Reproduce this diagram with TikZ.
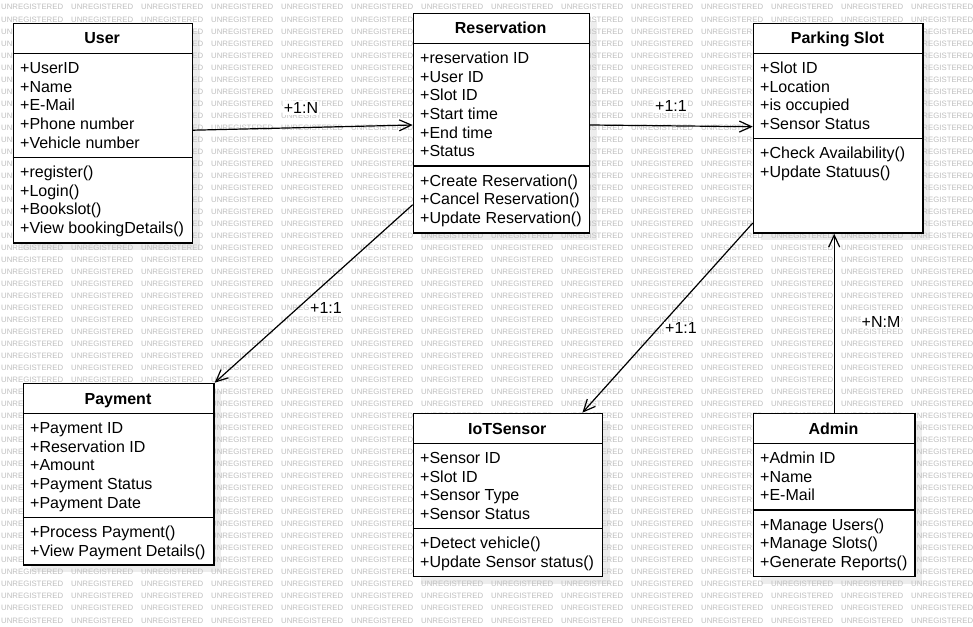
\documentclass[tikz,border=0pt]{standalone}
\usepackage{fontspec}
\setmainfont{Liberation Sans}
\usetikzlibrary{arrows.meta,calc}

\pgfdeclarelayer{paper}
\pgfdeclarelayer{shadow}
\pgfdeclarelayer{watermark}
\pgfsetlayers{paper,shadow,watermark,main}

\tikzset{
  classbox/.style={draw=black, line width=1.4pt, fill=white, inner sep=0pt, rectangle},
  classline/.style={draw=black, line width=1.4pt},
  boxshadow/.style={fill=black!7},
  classtitle/.style={font=\fontsize{16}{18.7}\selectfont\bfseries, inner sep=0pt, anchor=base},
  members/.style={font=\fontsize{16}{18.7}\selectfont, align=left, inner sep=0pt, anchor=north west},
  wmark/.style={font=\fontsize{7.8}{9}\selectfont, text=black!25, inner sep=0pt, anchor=west},
  assoc/.style={draw=black, line width=1.2pt, -{Straight Barb[length=12pt,width=11pt]}},
  mult/.style={font=\fontsize{16}{18.7}\selectfont, fill=white, inner sep=1pt},
}

% class frame: name, left, top, right, bottom, header rule y, separator y, title
\newcommand\umlclass[8]{%
  \begin{pgfonlayer}{shadow}
    \fill[boxshadow] (#2+8,#3+8) rectangle (#4+8,#5+8);
  \end{pgfonlayer}
  \node[classbox, anchor=north west,
        minimum width={#4-#2}, minimum height={#5-#3}] (#1) at (#2,#3) {};
  \draw[classline] (#2,#6) -- (#4,#6);
  \draw[classline] (#2,#7) -- (#4,#7);
  \node[classtitle] (#1-title) at ({(#2+#4)/2}, {(#3+#6)/2+6}) {#8};
}
% member list: node name, left of class, rule above it, lines
\newcommand\umlmembers[4]{%
  \node[members] (#1) at (#2+7.3, #3+6.9) {\strut #4};
}

\begin{document}
\begin{tikzpicture}[x=1pt, y=-1pt]
  \useasboundingbox (0,0) rectangle (973,626);
  \begin{pgfonlayer}{paper}
    \fill[white] (0,0) rectangle (973,626);
  \end{pgfonlayer}

  % faint repeated watermark behind the diagram
  \begin{pgfonlayer}{watermark}
    \foreach \r in {0,...,51}{
      \foreach \c in {0,...,13}{
        \node[wmark] (wm-\r-\c) at (1+70*\c, 7.3+12.02*\r) {UNREGISTERED};
      }
    }
  \end{pgfonlayer}

  % classes
  \umlclass{user}{12.7}{22.7}{191.5}{242.3}{53.3}{157.3}{User}
  \umlmembers{user-attrs}{12.7}{53.3}{+UserID\\+Name\\+E-Mail\\+Phone number\\+Vehicle number}
  \umlmembers{user-ops}{12.7}{157.3}{+register()\\+Login()\\+Bookslot()\\+View bookingDetails()}

  \umlclass{reservation}{412.7}{12.7}{588.7}{232.3}{43.3}{166}{Reservation}
  \umlmembers{reservation-attrs}{412.7}{43.3}{+reservation ID\\+User ID\\+Slot ID\\+Start time\\+End time\\+Status}
  \umlmembers{reservation-ops}{412.7}{166}{+Create Reservation()\\+Cancel Reservation()\\+Update Reservation()}

  \umlclass{parking}{752.7}{22.7}{922.3}{232.3}{53.3}{138.3}{Parking Slot}
  \umlmembers{parking-attrs}{752.7}{53.3}{+Slot ID\\+Location\\+is occupied\\+Sensor Status}
  \umlmembers{parking-ops}{752.7}{138.3}{+Check Availability()\\+Update Statuus()}

  \umlclass{payment}{22.7}{382.7}{213.3}{564.3}{413.3}{517.3}{Payment}
  \umlmembers{payment-attrs}{22.7}{413.3}{+Payment ID\\+Reservation ID\\+Amount\\+Payment Status\\+Payment Date}
  \umlmembers{payment-ops}{22.7}{517.3}{+Process Payment()\\+View Payment Details()}

  \umlclass{iot}{412.7}{412.7}{601.7}{576}{443.3}{528.3}{IoTSensor}
  \umlmembers{iot-attrs}{412.7}{443.3}{+Sensor ID\\+Slot ID\\+Sensor Type\\+Sensor Status}
  \umlmembers{iot-ops}{412.7}{528.3}{+Detect vehicle()\\+Update Sensor status()}

  \umlclass{admin}{752.7}{412.7}{914.3}{576}{443.3}{510}{Admin}
  \umlmembers{admin-attrs}{752.7}{443.3}{+Admin ID\\+Name\\+E-Mail}
  \umlmembers{admin-ops}{752.7}{510}{+Manage Users()\\+Manage Slots()\\+Generate Reports()}

  % associations
  \draw[assoc] ($(user.east)+(0,-3)$) -- ($(reservation.west)+(0,1.8)$);
  \draw[assoc] ($(reservation.east)+(0,1.8)$) -- ($(parking.west)+(0,-1.5)$);
  \draw[assoc] ($(reservation.south west)+(0,-29)$) -- (payment.north east);
  \draw[assoc] ($(parking.south west)+(0,-10.6)$) -- ($(iot.north east)+(-20.7,0)$);
  \draw[assoc] (admin.north) -- (admin.north |- parking.south);

  % multiplicities
  \node[mult] (m-user-res) at (301,108) {+1:N};
  \node[mult] (m-res-park) at (671,106) {+1:1};
  \node[mult] (m-res-pay) at (326,308) {+1:1};
  \node[mult] (m-park-iot) at (681,328.3) {+1:1};
  \node[mult] (m-admin-park) at (881,321.7) {+N:M};
\end{tikzpicture}
\end{document}
